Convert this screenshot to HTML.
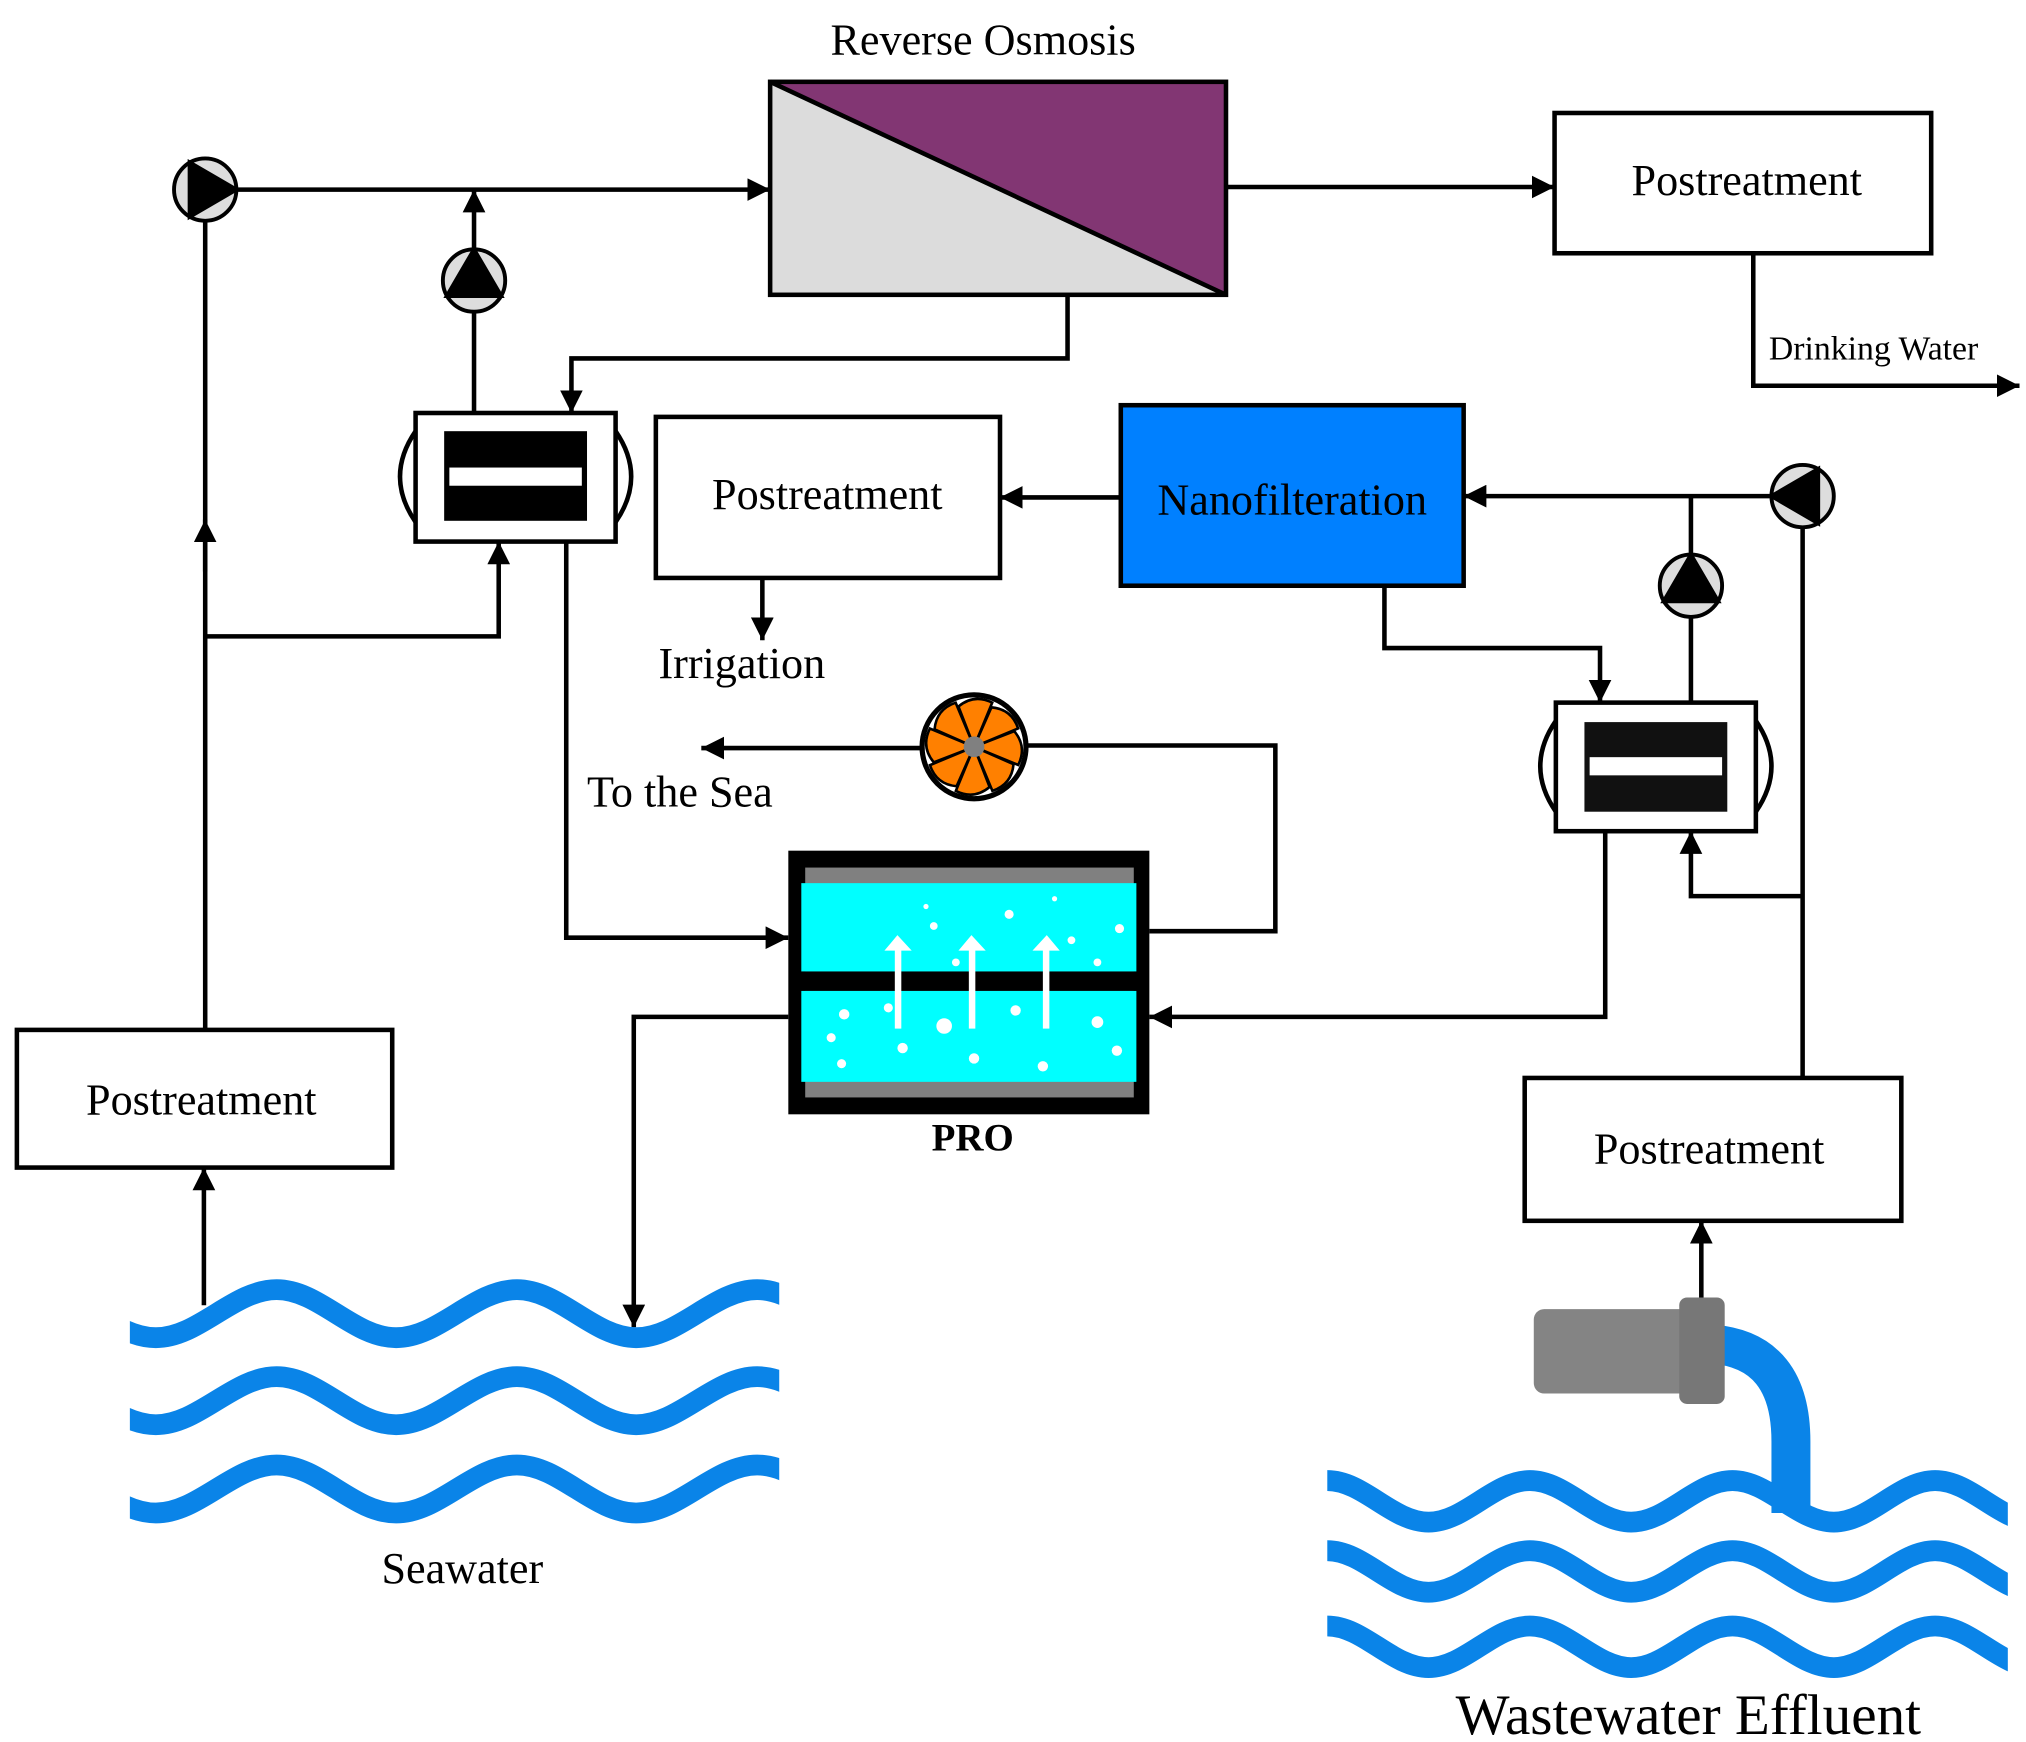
<!DOCTYPE html>
<html><head><meta charset="utf-8"><style>html,body{margin:0;padding:0;background:#fff}svg{display:block}</style></head>
<body>
<svg width="2026" height="1742" viewBox="0 0 1560 1341.3" preserveAspectRatio="none" xmlns="http://www.w3.org/2000/svg" font-family="'Liberation Serif', serif">
<defs>
<marker id="a" viewBox="0 0 10 10" refX="10" refY="5" markerWidth="5" markerHeight="5" orient="auto" markerUnits="strokeWidth"><path d="M0,0 L10,5 L0,10 Z" fill="#000"/></marker>
<clipPath id="c1"><rect x="100" y="950" width="500" height="250"/></clipPath>
<clipPath id="c2"><rect x="1018" y="1100" width="528" height="200"/></clipPath>
</defs>
<g fill="none" stroke="#000" stroke-width="3.5">
<path d="M182,146 H593" marker-end="url(#a)"/>
<path d="M158,793 V400"/>
<path d="M158,440 V400" marker-end="url(#a)"/>
<path d="M158,400 V170"/>
<path d="M158,490 H384 V417" marker-end="url(#a)"/>
<path d="M365,318 V240"/>
<path d="M365,192 V146" marker-end="url(#a)"/>
<path d="M822,227 V276 H440 V318" marker-end="url(#a)"/>
<path d="M944,144 H1197" marker-end="url(#a)"/>
<path d="M1350,195 V297 H1555" marker-end="url(#a)"/>
<path d="M863,383 H770" marker-end="url(#a)"/>
<path d="M587,445 V493" marker-end="url(#a)"/>
<path d="M1364,382 H1127" marker-end="url(#a)"/>
<path d="M1388,406 V830"/>
<path d="M1302,382 V427"/>
<path d="M1302,475 V541"/>
<path d="M1066,451 V499 H1232 V541" marker-end="url(#a)"/>
<path d="M1388,690 H1302 V640" marker-end="url(#a)"/>
<path d="M1236,640 V783 H885" marker-end="url(#a)"/>
<path d="M710,576 H540" marker-end="url(#a)"/>
<path d="M790,574 H982 V717 H885"/>
<path d="M436,417 V722 H607" marker-end="url(#a)"/>
<path d="M607,783 H488 V1022" marker-end="url(#a)"/>
<path d="M157,1005 V899" marker-end="url(#a)"/>
<path d="M1310,999 V940" marker-end="url(#a)"/>
</g>
<polygon points="593,63 593,227 944,227" fill="#dcdcdc"/>
<polygon points="593,63 944,63 944,227" fill="#823673"/>
<rect x="593" y="63" width="351" height="164" fill="none" stroke="#000" stroke-width="3.5"/>
<line x1="593" y1="63" x2="944" y2="227" stroke="#000" stroke-width="3.5"/>
<text x="757" y="42" font-size="34" text-anchor="middle">Reverse Osmosis</text>
<g stroke="#000" stroke-width="3">
<circle cx="158" cy="146" r="24" fill="#ddd"/>
<polygon points="182,146 146,125 146,167" fill="#000"/>
<circle cx="365" cy="216" r="24" fill="#ddd"/>
<polygon points="365,192 344,228 386,228" fill="#000"/>
<circle cx="1388" cy="382" r="24" fill="#ddd"/>
<polygon points="1364,382 1400,361 1400,403" fill="#000"/>
<circle cx="1302" cy="451" r="24" fill="#ddd"/>
<polygon points="1302,427 1281,463 1323,463" fill="#000"/>
</g>
<g stroke="#000" stroke-width="3.5" fill="none">
<path d="M320,332 Q296,367 320,402"/><path d="M474,332 Q498,367 474,402"/>
<rect x="320" y="318" width="154" height="99" fill="#fff"/>
<path d="M1198,555 Q1174,590 1198,625"/><path d="M1352,555 Q1376,590 1352,625"/>
<rect x="1198" y="541" width="154" height="99" fill="#fff"/>
</g>
<rect x="342" y="332" width="110" height="69" fill="#000"/>
<rect x="346" y="360" width="102" height="14" fill="#fff"/>
<rect x="1220" y="556" width="110" height="69" fill="#111"/>
<rect x="1224" y="583" width="102" height="14" fill="#fff"/>
<g stroke="#000" stroke-width="3.5">
<rect x="1197" y="87" width="290" height="108" fill="#fff"/>
<rect x="505" y="321" width="265" height="124" fill="#fff"/>
<rect x="863" y="312" width="264" height="139" fill="#0080ff"/>
<rect x="13" y="793" width="289" height="106" fill="#fff"/>
<rect x="1174" y="830" width="290" height="110" fill="#fff"/>
</g>
<g font-size="34" text-anchor="middle">
<text x="1345" y="150">Postreatment</text>
<text x="637" y="392">Postreatment</text>
<text x="995" y="396">Nanofilteration</text>
<text x="155" y="858">Postreatment</text>
<text x="1316" y="896">Postreatment</text>
<text x="356" y="1219">Seawater</text>
<text x="749" y="886" font-weight="bold" font-size="30">PRO</text>
</g>
<text x="1362" y="277" font-size="26">Drinking Water</text>
<text x="507" y="522" font-size="34">Irrigation</text>
<text x="452" y="621" font-size="34">To the Sea</text>
<text x="1300" y="1335" font-size="44" text-anchor="middle">Wastewater Effluent</text>
<circle cx="750" cy="575" r="40" fill="#fff" stroke="#000" stroke-width="4"/>
<g fill="#ff8000" stroke="#000" stroke-width="2">
<path id="bl" d="M750,575 L738,544 Q750,534 764,541 Z"/>
<use href="#bl" transform="rotate(45 750 575)"/>
<use href="#bl" transform="rotate(90 750 575)"/>
<use href="#bl" transform="rotate(135 750 575)"/>
<use href="#bl" transform="rotate(180 750 575)"/>
<use href="#bl" transform="rotate(225 750 575)"/>
<use href="#bl" transform="rotate(270 750 575)"/>
<use href="#bl" transform="rotate(315 750 575)"/>
</g>
<circle cx="750" cy="575" r="8" fill="#808080"/>
<rect x="607" y="655" width="278" height="203" fill="#000"/>
<rect x="620" y="668" width="253" height="177" fill="#808080"/>
<rect x="617" y="680" width="258" height="68" fill="#00ffff"/>
<rect x="617" y="748" width="258" height="15" fill="#000"/>
<rect x="617" y="763" width="258" height="70" fill="#00ffff"/>
<g fill="#fff">
<rect x="689" y="730" width="5" height="62"/><polygon points="681,732 702,732 691,720"/>
<rect x="746" y="730" width="5" height="62"/><polygon points="738,732 759,732 748,720"/>
<rect x="803" y="730" width="5" height="62"/><polygon points="795,732 816,732 806,720"/>
<circle cx="650" cy="781" r="4"/><circle cx="640" cy="799" r="3.5"/><circle cx="684" cy="776" r="3.5"/>
<circle cx="727" cy="790" r="6"/><circle cx="695" cy="807" r="4"/><circle cx="648" cy="819" r="3.5"/>
<circle cx="782" cy="778" r="4"/><circle cx="750" cy="815" r="4"/><circle cx="803" cy="821" r="4"/>
<circle cx="845" cy="787" r="4.5"/><circle cx="860" cy="809" r="4"/>
<circle cx="777" cy="704" r="3.5"/><circle cx="719" cy="713" r="3"/><circle cx="825" cy="724" r="3"/>
<circle cx="862" cy="715" r="3.5"/><circle cx="845" cy="741" r="3"/><circle cx="812" cy="692" r="2"/>
<circle cx="736" cy="741" r="3"/><circle cx="713" cy="698" r="2"/>
</g>
<g clip-path="url(#c1)" fill="none" stroke="#0a84e8" stroke-width="16">
<path id="sw" d="M27,993 C60,993 87,1030 120,1030 C153,1030 180,993 213,993 C246,993 272,1030 305,1030 C338,1030 365,993 398,993 C431,993 457,1030 490,1030 C523,1030 550,993 583,993 C616,993 642,1030 675,1030"/>
<use href="#sw" transform="translate(0,67)"/>
<use href="#sw" transform="translate(0,135)"/>
</g>
<path d="M1319,1035 Q1379,1040 1379,1110 V1165" fill="none" stroke="#0a84e8" stroke-width="30"/>
<rect x="1181" y="1008" width="120" height="65" rx="8" fill="#848484"/>
<rect x="1293" y="999" width="35" height="82" rx="6" fill="#777"/>
<g clip-path="url(#c2)" fill="none" stroke="#0a84e8" stroke-width="16">
<path id="ww" d="M1022,1140 C1050,1140 1072,1172 1100,1172 C1128,1172 1150,1140 1178,1140 C1206,1140 1228,1172 1256,1172 C1284,1172 1306,1140 1334,1140 C1362,1140 1384,1172 1412,1172 C1440,1172 1462,1140 1490,1140 C1518,1140 1540,1172 1568,1172"/>
<use href="#ww" transform="translate(0,54)"/>
<use href="#ww" transform="translate(0,112)"/>
</g>
</svg>
</body></html>
